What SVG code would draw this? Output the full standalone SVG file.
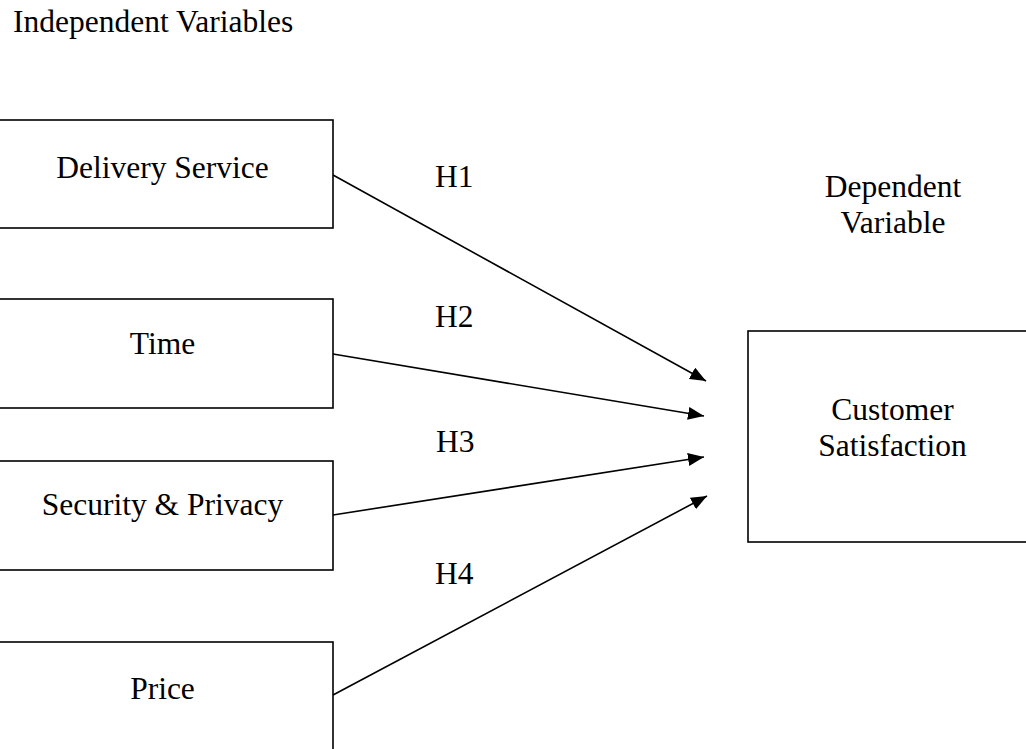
<svg xmlns="http://www.w3.org/2000/svg" width="1026" height="749" viewBox="0 0 1026 749">
<defs>
<style>
.box{fill:#fff;stroke:#000;stroke-width:1.6}
.t{font-family:"Liberation Serif","Times New Roman",serif;font-size:31.5px;fill:#000}
.c{text-anchor:middle}
.ln{stroke:#000;stroke-width:1.6;fill:none;marker-end:url(#ah)}
</style>
<marker id="ah" markerUnits="userSpaceOnUse" markerWidth="18" markerHeight="14" refX="16" refY="6.5" orient="auto">
<path d="M0,0 L16,6.5 L0,13 z" fill="#000"/>
</marker>
</defs>
<rect width="1026" height="749" fill="#fff"/>
<text class="t" x="13" y="32">Independent Variables</text>
<g id="n1"><rect class="box" x="-8" y="120" width="341" height="108"/><text class="t c" x="162.5" y="178">Delivery Service</text></g>
<g id="n2"><rect class="box" x="-8" y="299" width="341" height="109"/><text class="t c" x="162.5" y="354">Time</text></g>
<g id="n3"><rect class="box" x="-8" y="461" width="341" height="109"/><text class="t c" x="162.5" y="515">Security &amp; Privacy</text></g>
<g id="n4"><rect class="box" x="-8" y="642" width="341" height="120"/><text class="t c" x="162.5" y="699">Price</text></g>
<g id="n5"><rect class="box" x="748" y="331" width="290" height="211"/><text class="t c" x="892.5" y="420">Customer</text><text class="t c" x="892.5" y="456">Satisfaction</text></g>
<g id="lbl"><text class="t c" x="893" y="197">Dependent</text><text class="t c" x="893" y="233">Variable</text></g>
<g id="connectors">
<line class="ln" x1="333" y1="175" x2="706" y2="381"/>
<line class="ln" x1="333" y1="354" x2="704" y2="416"/>
<line class="ln" x1="333" y1="515" x2="704" y2="457"/>
<line class="ln" x1="333" y1="695" x2="707" y2="496"/>
<text class="t" x="435" y="187">H1</text>
<text class="t" x="435" y="327">H2</text>
<text class="t" x="436" y="452">H3</text>
<text class="t" x="435" y="584">H4</text>
</g>
</svg>
